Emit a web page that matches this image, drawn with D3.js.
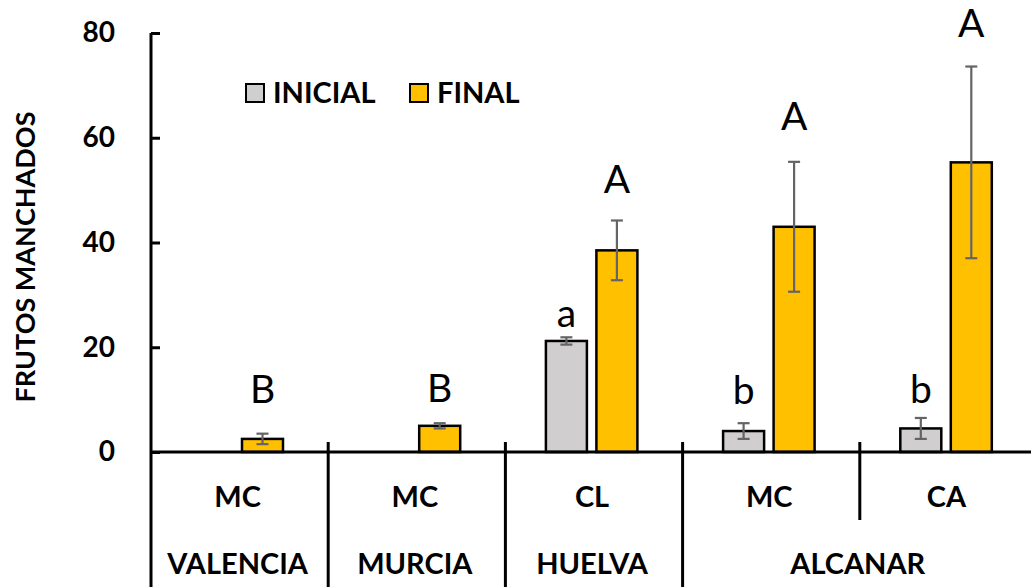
<!DOCTYPE html>
<html>
<head>
<meta charset="utf-8">
<script src="https://cdn.jsdelivr.net/npm/d3@7"></script>
<style>
  html, body { margin: 0; padding: 0; background: #fff; }
  svg { display: block; font-family: Lato, "Open Sans", sans-serif; }
</style>
</head>
<body>
<svg id="chart" width="1031" height="587"></svg>
<script>
// ---- data ----
const sites = ["VALENCIA", "MURCIA", "HUELVA", "ALCANAR", "ALCANAR"];
const varieties = ["MC", "MC", "CL", "MC", "CA"];
const series = ["INICIAL", "FINAL"];
const inicialValues = [0, null, 21.2, 4.0, 4.5];
const inicialErrors = [0, null, 0.7, 1.5, 2.0];
const finalValues = [2.5, 5.0, 38.5, 43.0, 55.3];
const finalErrors = [1.0, 0.5, 5.7, 12.4, 18.3];
const inicialLetters = ["", "", "a", "b", "b"];
const finalLetters = ["B", "B", "A", "A", "A"];
const inicialLetterAt = [null, null, 23.9, 9.2, 9.4];
const finalLetterAt = [9.35, 9.5, 49.4, 61.5, 79.2];
const yTicks = [0, 20, 40, 60, 80];
const siteGroups = [
  { name: "VALENCIA", from: 0, to: 0 },
  { name: "MURCIA", from: 1, to: 1 },
  { name: "HUELVA", from: 2, to: 2 },
  { name: "ALCANAR", from: 3, to: 4 }
];

// ---- layout ----
const W = 1031, H = 587;
const axisX = 151;
const step = 177.2;
const svg = d3.select("#chart");

const groupIdx = d3.range(varieties.length);
const x0 = d3.scaleBand().domain(groupIdx).range([axisX, axisX + step * groupIdx.length]).paddingInner(0).paddingOuter(0);
const x1 = d3.scaleBand().domain(series).range([40.5, 132]).paddingInner(0.188);
const y = d3.scaleLinear().domain([0, 80]).range([452, 33]);

const colors = { INICIAL: "#D0CECE", FINAL: "#FFC000" };

const rows = [];
groupIdx.forEach(i => {
  if (inicialValues[i] !== null) rows.push({ g: i, s: "INICIAL", v: inicialValues[i], e: inicialErrors[i], l: inicialLetters[i], la: inicialLetterAt[i] });
  if (finalValues[i] !== null) rows.push({ g: i, s: "FINAL", v: finalValues[i], e: finalErrors[i], l: finalLetters[i], la: finalLetterAt[i] });
});

// bars
svg.append("g").selectAll("rect").data(rows).join("rect")
  .attr("x", d => x0(d.g) + x1(d.s))
  .attr("y", d => y(d.v))
  .attr("width", x1.bandwidth())
  .attr("height", d => y(0) - y(d.v))
  .attr("fill", d => colors[d.s])
  .attr("stroke", "#000")
  .attr("stroke-width", 2.5);

// error bars
const eb = svg.append("g").attr("stroke", "#646464").attr("stroke-width", 2.2);
rows.filter(d => d.e > 0).forEach(d => {
  const cx = x0(d.g) + x1(d.s) + x1.bandwidth() / 2;
  eb.append("line").attr("x1", cx).attr("x2", cx).attr("y1", y(d.v + d.e)).attr("y2", y(d.v - d.e));
  eb.append("line").attr("x1", cx - 6).attr("x2", cx + 6).attr("y1", y(d.v + d.e)).attr("y2", y(d.v + d.e));
  eb.append("line").attr("x1", cx - 6).attr("x2", cx + 6).attr("y1", y(d.v - d.e)).attr("y2", y(d.v - d.e));
});

// significance letters
svg.append("g").selectAll("text").data(rows.filter(d => d.l)).join("text")
  .attr("x", d => x0(d.g) + x1(d.s) + x1.bandwidth() / 2)
  .attr("y", d => y(d.la))
  .attr("text-anchor", "middle")
  .attr("font-size", 39)
  .attr("font-weight", 400)
  .attr("fill", "#000")
  .text(d => d.l);

// baseline
svg.append("line").attr("x1", axisX).attr("x2", W).attr("y1", y(0)).attr("y2", y(0))
  .attr("stroke", "#000").attr("stroke-width", 3);

// y axis
const yAxis = d3.axisLeft(y).tickValues(yTicks).tickSizeInner(-9).tickSizeOuter(0).tickPadding(36);
const ya = svg.append("g").attr("transform", `translate(${axisX},0)`).call(yAxis);
ya.select(".domain").remove();
ya.selectAll(".tick line").attr("stroke", "#000").attr("stroke-width", 3);
ya.selectAll(".tick text").attr("font-size", 28).attr("font-weight", 700).attr("fill", "#000")
  .attr("font-family", "Lato, sans-serif");
svg.append("line").attr("x1", axisX).attr("x2", axisX).attr("y1", y(80)).attr("y2", H)
  .attr("stroke", "#000").attr("stroke-width", 3);

// category separators
groupIdx.slice(1).forEach(i => {
  const bx = x0(i);
  const inSameSite = sites[i] === sites[i - 1];
  svg.append("line").attr("x1", bx).attr("x2", bx)
    .attr("y1", y(0) - 10).attr("y2", inSameSite ? 520 : H)
    .attr("stroke", "#000").attr("stroke-width", 3);
});

// variety labels
svg.append("g").selectAll("text").data(groupIdx).join("text")
  .attr("x", i => x0(i) + x0.bandwidth() / 2 - 2)
  .attr("y", 497)
  .attr("dy", "0.36em")
  .attr("text-anchor", "middle")
  .attr("font-size", 29)
  .attr("font-weight", 700)
  .text(i => varieties[i]);

// site labels
svg.append("g").selectAll("text").data(siteGroups).join("text")
  .attr("x", d => (x0(d.from) + x0(d.to) + x0.bandwidth()) / 2 - 2)
  .attr("y", 564)
  .attr("dy", "0.36em")
  .attr("text-anchor", "middle")
  .attr("font-size", 29)
  .attr("font-weight", 700)
  .text(d => d.name);

// y title
svg.append("text")
  .attr("transform", "translate(25,257) rotate(-90)")
  .attr("dy", "0.36em")
  .attr("text-anchor", "middle")
  .attr("font-size", 27)
  .attr("font-weight", 700)
  .text("FRUTOS MANCHADOS");

// legend
const legendX = [246, 410];
const lg = svg.append("g").selectAll("g").data(series).join("g")
  .attr("transform", (d, i) => `translate(${legendX[i]},84)`);
lg.append("rect").attr("width", 18).attr("height", 18)
  .attr("fill", d => colors[d]).attr("stroke", "#000").attr("stroke-width", 2);
lg.append("text").attr("x", 27).attr("y", 9).attr("dy", "0.36em")
  .attr("font-size", 29).attr("font-weight", 700).text(d => d);
</script>
</body>
</html>
